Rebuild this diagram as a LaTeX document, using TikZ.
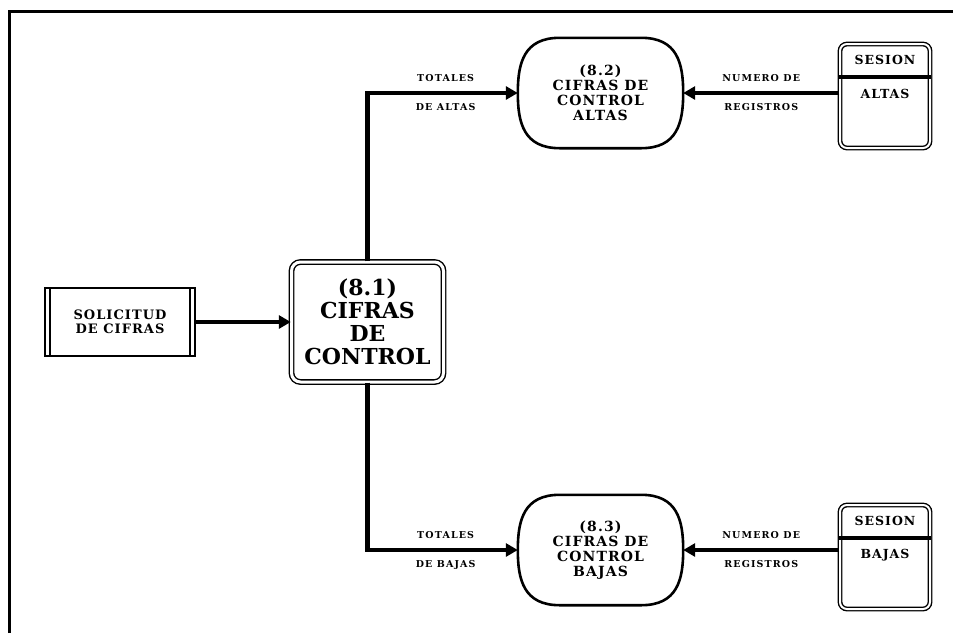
\documentclass[tikz,border=0pt]{standalone}
\usepackage{fontspec}
\setmainfont{DejaVu Serif}
\newfontfamily\labfont[LetterSpace=12]{DejaVu Serif}
\newfontfamily\boxfont[LetterSpace=8]{DejaVu Serif}
\usetikzlibrary{arrows.meta,calc}
\newcommand\barrelshape[1]{%
  \draw[line width=2.6,line join=round]
    ($(#1.north west)+(42,0)$) -- ($(#1.north east)+(-42,0)$)
    .. controls ($(#1.north east)+(-6,0)$) and ($(#1.east)+(0,-30)$) .. (#1.east)
    .. controls ($(#1.east)+(0,30)$) and ($(#1.south east)+(-6,0)$) .. ($(#1.south east)+(-42,0)$)
    -- ($(#1.south west)+(42,0)$)
    .. controls ($(#1.south west)+(6,0)$) and ($(#1.west)+(0,30)$) .. (#1.west)
    .. controls ($(#1.west)+(0,-30)$) and ($(#1.north west)+(6,0)$) .. cycle;}
\begin{document}
\begin{tikzpicture}[x=1pt,y=-1pt,
  flow/.style={line width=4.5,-{Triangle[length=12,width=13]}},
  lab/.style={font=\labfont\bfseries\fontsize{9.5}{10}\selectfont,inner sep=0},
  entity/.style={draw,line width=1.6,minimum width=150,minimum height=68,align=center,
    font=\boxfont\bfseries\fontsize{13}{14.5}\selectfont},
  mainproc/.style={draw,line width=1.4,double,double distance=3,rounded corners=9,
    minimum width=152,minimum height=120,align=center,
    font=\bfseries\fontsize{22}{23}\selectfont},
  subproc/.style={minimum width=165,minimum height=110,align=center,inner sep=0,
    font=\boxfont\bfseries\fontsize{14}{15}\selectfont},
  store/.style={draw,line width=1.4,double,double distance=2,rounded corners=7,
    minimum width=90,minimum height=104},
  storetxt/.style={font=\boxfont\bfseries\fontsize{12.5}{13}\selectfont,inner sep=0}]
\useasboundingbox (0,0) rectangle (953,633);
\fill[white] (0,0) rectangle (953,633);
% frame
\draw[line width=3] (9,633) -- (9,11) -- (953,11);
% external entity
\node[entity] (sol) at (120,322) {SOLICITUD\\DE CIFRAS};
\draw[line width=1.6] ($(sol.north west)+(6,0)$) -- ($(sol.south west)+(6,0)$);
\draw[line width=1.6] ($(sol.north east)+(-6,0)$) -- ($(sol.south east)+(-6,0)$);
% main process
\node[mainproc] (p81) at (367.5,322) {(8.1)\\CIFRAS\\DE\\CONTROL};
% sub processes
\node[subproc] (p82) at (600.5,93) {(8.2)\\CIFRAS DE\\CONTROL\\ALTAS};
\barrelshape{p82}
\node[subproc] (p83) at (600.5,550) {(8.3)\\CIFRAS DE\\CONTROL\\BAJAS};
\barrelshape{p83}
% stores
\node[store] (sa) at (885,96) {};
\draw[line width=4] ($(sa.north west)+(0,34)$) -- ($(sa.north east)+(0,34)$);
\node[storetxt] (sat) at ($(sa.north)+(0,17)$) {SESION};
\node[storetxt] (sab) at ($(sa.north)+(0,51)$) {ALTAS};
\node[store] (sb) at (885,557) {};
\draw[line width=4] ($(sb.north west)+(0,34)$) -- ($(sb.north east)+(0,34)$);
\node[storetxt] (sbt) at ($(sb.north)+(0,17)$) {SESION};
\node[storetxt] (sbb) at ($(sb.north)+(0,51)$) {BAJAS};
% flows
\draw[flow] (sol.east) -- (p81.west);
\draw[flow] (p81.north) |- node[lab,pos=0.76,above=9]{TOTALES} node[lab,pos=0.76,below=8]{DE ALTAS} (p82.west);
\draw[flow] (p81.south) |- node[lab,pos=0.76,above=9]{TOTALES} node[lab,pos=0.76,below=8]{DE BAJAS} (p83.west);
\draw[flow] (sa.west |- p82.east) -- node[lab,above=9]{NUMERO DE} node[lab,below=8]{REGISTROS} (p82.east);
\draw[flow] (sb.west |- p83.east) -- node[lab,above=9]{NUMERO DE} node[lab,below=8]{REGISTROS} (p83.east);
\end{tikzpicture}
\end{document}
